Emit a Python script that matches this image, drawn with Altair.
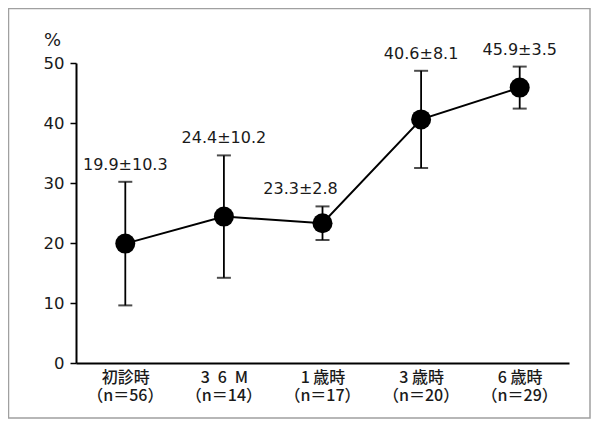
import altair as alt
import pandas as pd

categories = ["初診時", "3\u20026\u2002M", "1 歳時", "3 歳時", "6 歳時"]
n_labels = ["（n＝56）", "（n＝14）", "（n＝17）", "（n＝20）", "（n＝29）"]
means = [19.9, 24.4, 23.3, 40.6, 45.9]
sds = [10.3, 10.2, 2.8, 8.1, 3.5]

df = pd.DataFrame({
    "cat": categories,
    "n": n_labels,
    "mean": means,
    "sd": sds,
})
df["lo"] = df["mean"] - df["sd"]
df["hi"] = df["mean"] + df["sd"]
df["label"] = [f"{m:.1f}±{s:.1f}" for m, s in zip(means, sds)]

W, H = 493, 300

x = alt.X("cat:N", sort=categories,
          scale=alt.Scale(type="point", padding=0.5),
          axis=alt.Axis(title=None, labelAngle=0, ticks=False,
                        labelFont="Noto Sans CJK JP", labelFontSize=16,
                        labelFontWeight=500,
                        labelColor="#1a1a1a",
                        labelBaseline="top", labelPadding=6,
                        labelOverlap=False,
                        domainColor="black", domainWidth=2))
y_axis = alt.Axis(title="%", titleAngle=0, titleX=-24, titleY=-23,
                  titleAlign="center", titleBaseline="middle",
                  titleFont="DejaVu Sans", titleFontSize=18,
                  titleFontWeight="normal", titleColor="#1a1a1a",
                  values=[0, 10, 20, 30, 40, 50], grid=False,
                  tickSize=6, tickColor="black", tickWidth=1.5,
                  labelFont="DejaVu Sans", labelFontSize=16.5,
                  labelColor="#1a1a1a", labelPadding=6,
                  domainColor="black", domainWidth=2)
yscale = alt.Scale(domain=[0, 50], nice=False)

base = alt.Chart(df)

frame = alt.Chart(pd.DataFrame({"a": [0]})).mark_rect(
    fill=None, stroke="#a0a0a0", strokeWidth=1.5
).encode(x=alt.value(-67.5), x2=alt.value(514),
         y=alt.value(-54.5), y2=alt.value(355))

rules = base.mark_rule(color="black", strokeWidth=1.8).encode(
    x=x, y=alt.Y("lo:Q", scale=yscale, axis=y_axis), y2="hi:Q")
caps_hi = base.mark_tick(color="black", thickness=2, size=14).encode(
    x=x, y=alt.Y("hi:Q", scale=yscale))
caps_lo = base.mark_tick(color="black", thickness=2, size=14).encode(
    x=x, y=alt.Y("lo:Q", scale=yscale))
line = base.mark_line(color="black", strokeWidth=2).encode(
    x=x, y=alt.Y("mean:Q", scale=yscale))
pts = base.mark_circle(color="black", opacity=1, size=400).encode(
    x=x, y=alt.Y("mean:Q", scale=yscale))
text_main = base.transform_filter(alt.datum.cat != categories[2]).mark_text(
    font="DejaVu Sans", fontSize=16, color="#1a1a1a", dy=-12,
    baseline="alphabetic").encode(
    x=x, y=alt.Y("hi:Q", scale=yscale), text="label:N")
text_third = base.transform_filter(alt.datum.cat == categories[2]).mark_text(
    font="DejaVu Sans", fontSize=16, color="#1a1a1a", dy=-12, dx=-22,
    baseline="alphabetic").encode(
    x=x, y=alt.Y("hi:Q", scale=yscale), text="label:N")
n_text = base.mark_text(
    font="Noto Sans CJK JP", fontSize=16, fontWeight=500, color="#1a1a1a",
    baseline="top").encode(
    x=x, y=alt.value(H + 25), text="n:N")

chart = alt.layer(frame, rules, caps_hi, caps_lo, line, pts, text_main,
                  text_third, n_text).properties(
    width=W, height=H,
    padding={"left": 68, "top": 55, "right": 22, "bottom": 58},
    autosize=alt.AutoSizeParams(type="none"),
    background="white",
).configure_view(stroke=None)

chart.save("out.html", embed_options={"renderer": "svg", "actions": False})
